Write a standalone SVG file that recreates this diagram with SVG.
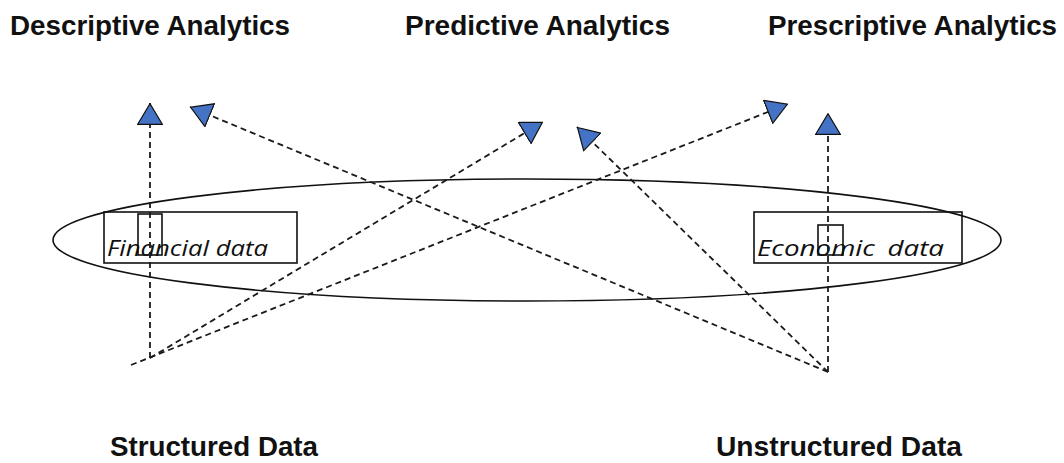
<svg xmlns="http://www.w3.org/2000/svg" width="1064" height="463" viewBox="0 0 1064 463">
  <style>
    .title { font-family: "Liberation Sans", Arial, sans-serif; font-weight: bold; font-size: 27px; fill: #111; }
    .label { font-family: "Open Sans", "DejaVu Sans", sans-serif; font-style: italic; font-size: 21px; fill: #111; }
    .outline { fill: none; stroke: #111; stroke-width: 1.6; }
    .link { fill: none; stroke: #1a1a1a; stroke-width: 1.8; stroke-dasharray: 6 4; }
  </style>
  <defs>
    <marker id="head" viewBox="0 0 22 26" refX="22" refY="13" markerWidth="22" markerHeight="26" markerUnits="userSpaceOnUse" orient="auto">
      <path d="M0.7,0.7 L21.3,13 L0.7,25.3 z" fill="#4472C4" stroke="#111" stroke-width="1.2" stroke-linejoin="miter"/>
    </marker>
  </defs>
  <rect width="1064" height="463" fill="#fff"/>

  <!-- analytics categories -->
  <g id="descriptive">
    <text class="title" x="10" y="35" textLength="280" lengthAdjust="spacingAndGlyphs">Descriptive Analytics</text>
  </g>
  <g id="predictive">
    <text class="title" x="405" y="35" textLength="265" lengthAdjust="spacingAndGlyphs">Predictive Analytics</text>
  </g>
  <g id="prescriptive">
    <text class="title" x="768" y="35" textLength="289" lengthAdjust="spacingAndGlyphs">Prescriptive Analytics</text>
  </g>

  <!-- data pool -->
  <g id="data-pool">
    <ellipse class="outline" cx="527" cy="240" rx="474" ry="61"/>
  </g>
  <g id="financial-data">
    <rect class="outline" x="104" y="212" width="193" height="51"/>
    <rect class="outline" x="138" y="214" width="24" height="41"/>
    <text class="label" x="107" y="256" textLength="161" lengthAdjust="spacingAndGlyphs">Financial data</text>
  </g>
  <g id="economic-data">
    <rect class="outline" x="754" y="212" width="208" height="51"/>
    <rect class="outline" x="818" y="225" width="25" height="30"/>
    <text class="label" x="757" y="256" textLength="187" lengthAdjust="spacingAndGlyphs" word-spacing="4">Economic data</text>
  </g>

  <!-- data sources -->
  <g id="structured-data">
    <text class="title" x="110" y="456" textLength="208" lengthAdjust="spacingAndGlyphs">Structured Data</text>
  </g>
  <g id="unstructured-data">
    <text class="title" x="716" y="456" textLength="246" lengthAdjust="spacingAndGlyphs">Unstructured Data</text>
  </g>

  <!-- dashed flows from sources to analytics -->
  <g id="connectors">
    <line class="link" x1="150" y1="358" x2="150" y2="103" marker-end="url(#head)"/>
    <line class="link" x1="150" y1="358" x2="543" y2="122" marker-end="url(#head)"/>
    <line class="link" x1="131" y1="365" x2="788" y2="104" marker-end="url(#head)"/>
    <line class="link" x1="828" y1="372" x2="828" y2="113" marker-end="url(#head)"/>
    <line class="link" x1="828" y1="372" x2="190" y2="107" marker-end="url(#head)"/>
    <line class="link" x1="828" y1="372" x2="577" y2="127" marker-end="url(#head)"/>
  </g>
</svg>
